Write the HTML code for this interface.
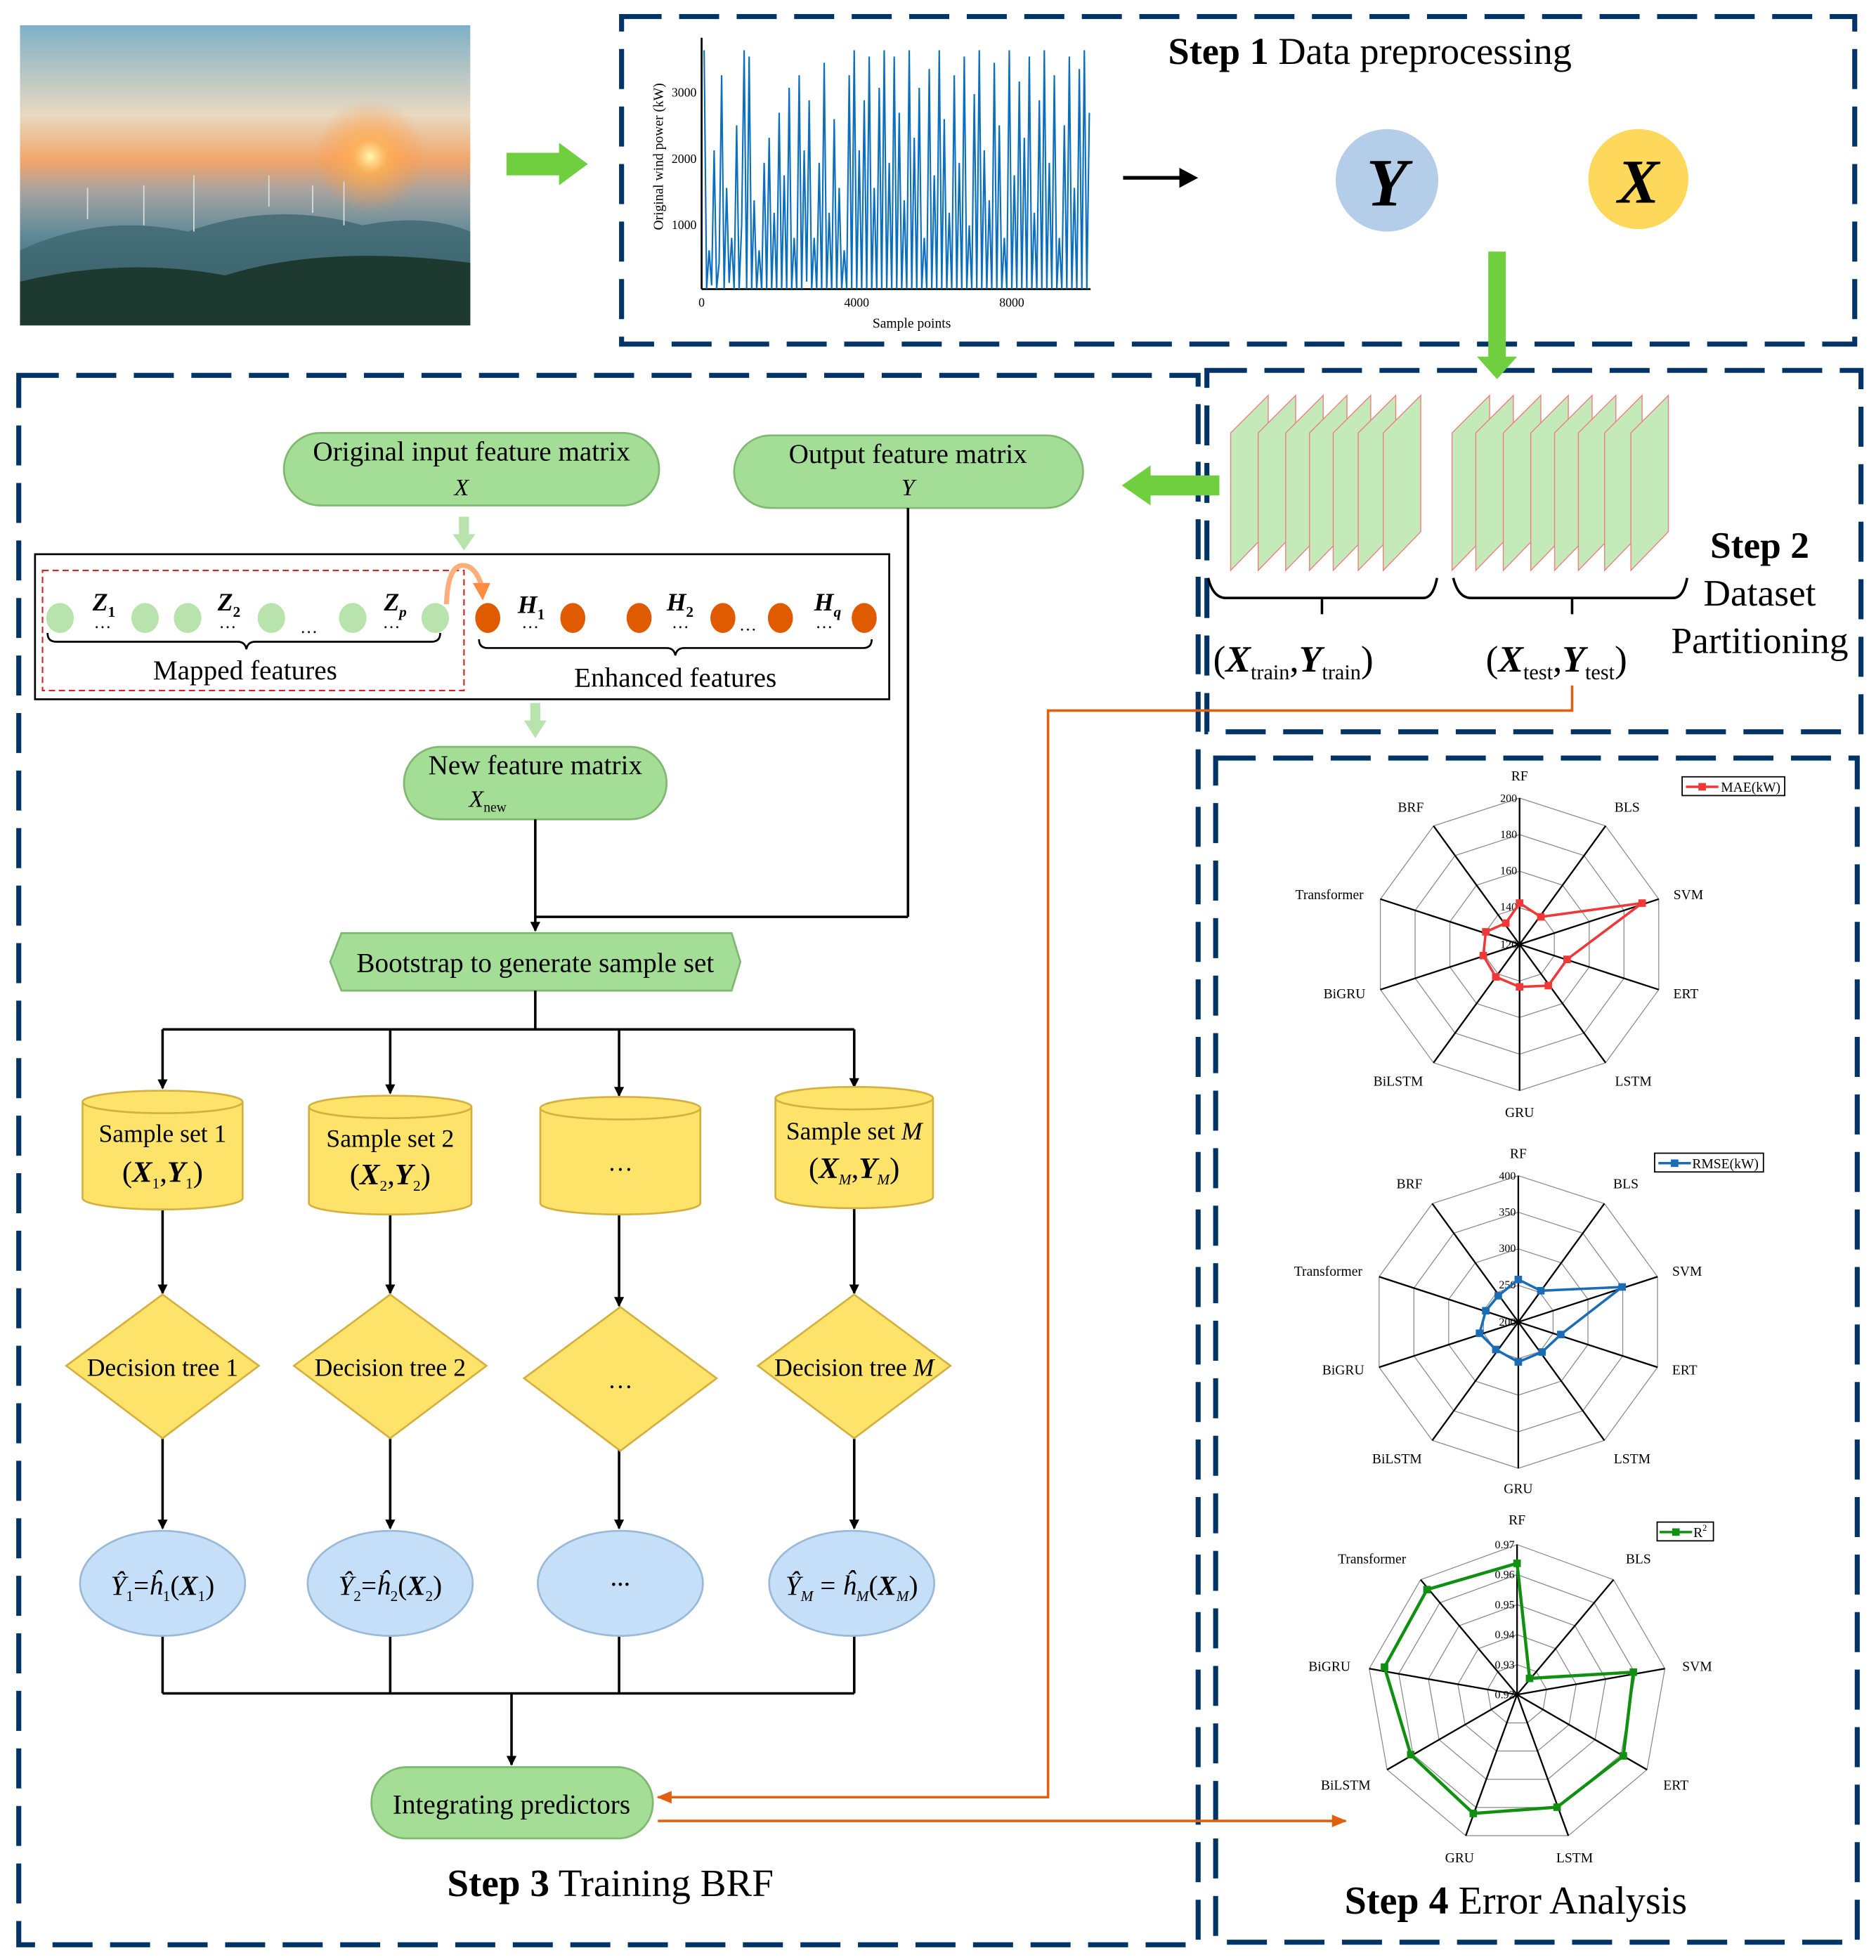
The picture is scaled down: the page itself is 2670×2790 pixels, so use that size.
<!DOCTYPE html>
<html><head><meta charset="utf-8"><style>
html,body{margin:0;padding:0;background:#fff;}
svg{display:block;}
text{font-family:"Liberation Serif",serif;}
</style></head><body>
<svg width="2670" height="2790" viewBox="0 0 1500 1567" xmlns="http://www.w3.org/2000/svg">
<defs>
<linearGradient id="sky" x1="0" y1="0" x2="0" y2="1">
<stop offset="0" stop-color="#7fb0c8"/><stop offset="0.3" stop-color="#e8d9c0"/><stop offset="0.45" stop-color="#f2a66a"/><stop offset="0.55" stop-color="#a8a4a0"/><stop offset="0.7" stop-color="#5f8a98"/><stop offset="1" stop-color="#1d3a36"/>
</linearGradient>
<radialGradient id="sun" cx="0.5" cy="0.5" r="0.5"><stop offset="0" stop-color="#fff6b0"/><stop offset="0.3" stop-color="#ffb050" stop-opacity="0.8"/><stop offset="1" stop-color="#ff9040" stop-opacity="0"/></radialGradient>
<marker id="ab" markerWidth="8" markerHeight="8" refX="7" refY="4" orient="auto" markerUnits="userSpaceOnUse"><path d="M0,0 L8,4 L0,8 z" fill="#000"/></marker>
<marker id="ao" markerWidth="12" markerHeight="10" refX="11" refY="5" orient="auto" markerUnits="userSpaceOnUse"><path d="M0,0 L12,5 L0,10 z" fill="#e06010"/></marker>
</defs>

<!-- photo -->
<rect x="16" y="20" width="360" height="240" fill="url(#sky)"/>
<circle cx="296" cy="125" r="45" fill="url(#sun)"/>
<path d="M16,200 Q80,170 150,185 Q220,160 290,180 Q340,170 376,185 L376,260 L16,260z" fill="#3e6670" opacity="0.8"/>
<path d="M16,225 Q100,205 180,220 Q260,195 376,210 L376,260 L16,260z" fill="#1e3a30"/>
<g stroke="#ddd" stroke-width="1"><line x1="70" y1="150" x2="70" y2="175"/><line x1="115" y1="148" x2="115" y2="180"/><line x1="155" y1="140" x2="155" y2="185"/><line x1="215" y1="140" x2="215" y2="165"/><line x1="250" y1="148" x2="250" y2="170"/><line x1="275" y1="145" x2="275" y2="180"/></g>

<path d="M405,122 L447,122 L447,114 L470,131 L447,148 L447,140 L405,140z" fill="#6fcf3f"/>

<g fill="none" stroke="#003366" stroke-width="4" stroke-dasharray="32,14">
<rect x="497" y="13" width="986" height="262"/>
<rect x="15" y="300" width="943" height="1255"/>
<rect x="965" y="296" width="523" height="289"/>
<rect x="972" y="606" width="513" height="947"/>
</g>

<line x1="561" y1="30" x2="561" y2="231" stroke="#000" stroke-width="1.5"/>
<line x1="561" y1="231" x2="872" y2="231" stroke="#000" stroke-width="1.5"/>
<polyline fill="none" stroke="#0b6fbd" stroke-width="1.2" points="563,40 565,231 567,200 569,228 571,120 573,231 575,210 577,60 579,231 581,150 583,226 585,190 587,231 589,100 591,231 593,180 595,40 597,231 599,45 601,231 603,160 605,231 607,200 609,231 611,130 613,231 615,110 617,231 619,170 621,231 623,90 625,231 627,140 629,231 631,70 633,231 635,190 637,231 639,60 641,231 643,120 645,225 647,80 649,231 651,190 653,231 655,130 657,231 659,50 661,231 663,170 665,231 667,95 669,231 671,150 673,231 675,200 677,231 679,60 681,231 683,40 685,231 687,120 689,231 691,80 693,231 695,45 697,231 699,150 701,231 703,70 705,231 707,40 709,231 711,130 713,231 715,45 717,231 719,90 721,231 723,160 725,231 727,40 729,231 731,110 733,231 735,70 737,231 739,190 741,231 743,55 745,231 747,140 749,231 751,40 753,231 755,95 757,231 759,170 761,231 763,60 765,231 767,130 769,231 771,45 773,231 775,180 777,231 779,75 781,231 783,40 785,231 787,120 789,231 791,160 793,231 795,50 797,231 799,100 801,231 803,190 805,231 807,40 809,231 811,140 813,231 815,65 817,231 819,110 821,231 823,45 825,231 827,170 829,231 831,80 833,231 835,40 837,231 839,130 841,231 843,60 845,231 847,190 849,231 851,100 853,231 855,45 857,231 859,150 861,231 863,55 865,231 867,40 869,231 871,90"/>
<g font-size="10" fill="#000">
<text x="557" y="77" text-anchor="end">3000</text>
<text x="557" y="130" text-anchor="end">2000</text>
<text x="557" y="183" text-anchor="end">1000</text>
<text x="561" y="245" text-anchor="middle">0</text>
<text x="685" y="245" text-anchor="middle">4000</text>
<text x="809" y="245" text-anchor="middle">8000</text>
<text x="729" y="262" text-anchor="middle" font-size="11">Sample points</text>
<text transform="translate(530,125) rotate(-90)" text-anchor="middle" font-size="11">Original wind power (kW)</text>
</g>
<text x="934" y="51" font-size="30.5"><tspan font-weight="bold">Step 1</tspan> Data preprocessing</text>
<line x1="898" y1="142" x2="945" y2="142" stroke="#000" stroke-width="3"/>
<path d="M943,134 L958,142 L943,150z" fill="#000"/>
<circle cx="1109" cy="144" r="41" fill="#b4cde8"/>
<circle cx="1310" cy="143" r="40" fill="#fdd85a"/>
<text x="1109" y="164" font-size="54" font-weight="bold" font-style="italic" text-anchor="middle">Y</text>
<text x="1310" y="162" font-size="50" font-weight="bold" font-style="italic" text-anchor="middle">X</text>
<rect x="1190" y="201" width="14" height="86" fill="#6fcf3f"/>
<path d="M1181,285 L1213,285 L1197,303z" fill="#6fcf3f"/>

<g fill="#c3eab8" stroke="#f08080" stroke-width="0.8">
<polygon points="984,346 1014,316 1014,425 984,456"/>
<polygon points="1006,346 1036,316 1036,425 1006,456"/>
<polygon points="1028,346 1058,316 1058,425 1028,456"/>
<polygon points="1047,346 1077,316 1077,425 1047,456"/>
<polygon points="1066,346 1096,316 1096,425 1066,456"/>
<polygon points="1086,346 1116,316 1116,425 1086,456"/>
<polygon points="1106,346 1136,316 1136,425 1106,456"/>
<polygon points="1161,346 1191,316 1191,425 1161,456"/>
<polygon points="1180,346 1210,316 1210,425 1180,456"/>
<polygon points="1202,346 1232,316 1232,425 1202,456"/>
<polygon points="1224,346 1254,316 1254,425 1224,456"/>
<polygon points="1243,346 1273,316 1273,425 1243,456"/>
<polygon points="1262,346 1292,316 1292,425 1262,456"/>
<polygon points="1283,346 1313,316 1313,425 1283,456"/>
<polygon points="1304,346 1334,316 1334,425 1304,456"/>
</g>
<g fill="none" stroke="#000" stroke-width="2">
<path d="M966,462 Q970,478 980,478 L1138,478 Q1146,478 1149,462"/>
<line x1="1057" y1="478" x2="1057" y2="491"/>
<path d="M1162,462 Q1166,478 1176,478 L1338,478 Q1346,478 1349,462"/>
<line x1="1257" y1="478" x2="1257" y2="491"/>
</g>
<text x="970" y="537" font-size="30">(<tspan font-style="italic" font-weight="bold">X</tspan><tspan font-size="17" dy="6">train</tspan><tspan dy="-6">,</tspan><tspan font-style="italic" font-weight="bold">Y</tspan><tspan font-size="17" dy="6">train</tspan><tspan dy="-6">)</tspan></text>
<text x="1188" y="537" font-size="30">(<tspan font-style="italic" font-weight="bold">X</tspan><tspan font-size="17" dy="6">test</tspan><tspan dy="-6">,</tspan><tspan font-style="italic" font-weight="bold">Y</tspan><tspan font-size="17" dy="6">test</tspan><tspan dy="-6">)</tspan></text>
<text x="1407" y="446" font-size="30" font-weight="bold" text-anchor="middle">Step 2</text>
<text x="1407" y="484" font-size="30" text-anchor="middle">Dataset</text>
<text x="1407" y="522" font-size="30" text-anchor="middle">Partitioning</text>
<path d="M975,380 L920,380 L920,372 L897,388 L920,404 L920,396 L975,396z" fill="#6fcf3f"/>

<g fill="#a3dd96" stroke="#7fb870" stroke-width="1.5">
<rect x="227" y="346" width="300" height="58" rx="29"/>
<rect x="587" y="348" width="279" height="58" rx="29"/>
<rect x="323" y="597" width="210" height="58" rx="29"/>
<polygon points="273,746 585,746 592,769 585,792 273,792 264,769"/>
<rect x="297" y="1413" width="225" height="57" rx="28"/>
</g>
<g font-size="22" text-anchor="middle">
<text x="377" y="368">Original input feature matrix</text>
<text x="369" y="396" font-style="italic" font-size="19">X</text>
<text x="726" y="370">Output feature matrix</text>
<text x="726" y="396" font-style="italic" font-size="19">Y</text>
<text x="428" y="619">New feature matrix</text>
<text x="390" y="645" font-style="italic" font-size="19">X<tspan font-size="11" dy="4" font-style="normal">new</tspan></text>
<text x="428" y="777">Bootstrap to generate sample set</text>
<text x="409" y="1450">Integrating predictors</text>
</g>
<rect x="367" y="413" width="8" height="15" fill="#b8e3ad"/><path d="M362,427 L380,427 L371,440z" fill="#b8e3ad"/>
<rect x="424" y="562" width="8" height="15" fill="#b8e3ad"/><path d="M419,576 L437,576 L428,590z" fill="#b8e3ad"/>

<rect x="28" y="443" width="683" height="116" fill="none" stroke="#000" stroke-width="1.5"/>
<rect x="34" y="456" width="337" height="96" fill="none" stroke="#e02020" stroke-width="1.2" stroke-dasharray="5,3"/>
<g fill="#b8e3ad"><ellipse cx="48" cy="494" rx="11" ry="12"/><ellipse cx="116" cy="494" rx="11" ry="12"/><ellipse cx="150" cy="494" rx="11" ry="12"/><ellipse cx="217" cy="494" rx="11" ry="12"/><ellipse cx="282" cy="494" rx="11" ry="12"/><ellipse cx="348" cy="494" rx="11" ry="12"/></g>
<g fill="#e05a00"><ellipse cx="390" cy="494" rx="10" ry="12"/><ellipse cx="458" cy="494" rx="10" ry="12"/><ellipse cx="511" cy="494" rx="10" ry="12"/><ellipse cx="578" cy="494" rx="10" ry="12"/><ellipse cx="624" cy="494" rx="10" ry="12"/><ellipse cx="691" cy="494" rx="10" ry="12"/></g>
<path d="M357,483 Q358,452 370,452 Q380,452 385,468" fill="none" stroke="#ffad7a" stroke-width="4"/>
<path d="M378,466 L392,466 L386,480z" fill="#ff8c40"/>
<g font-size="20" font-style="italic" font-weight="bold">
<text x="74" y="488">Z<tspan font-size="12" dy="5" font-style="normal">1</tspan></text>
<text x="174" y="488">Z<tspan font-size="12" dy="5" font-style="normal">2</tspan></text>
<text x="307" y="488">Z<tspan font-size="12" dy="5">p</tspan></text>
<text x="414" y="490">H<tspan font-size="12" dy="5" font-style="normal">1</tspan></text>
<text x="533" y="488">H<tspan font-size="12" dy="5" font-style="normal">2</tspan></text>
<text x="651" y="488">H<tspan font-size="12" dy="5">q</tspan></text>
</g>
<g font-size="14"><text x="75" y="502">…</text><text x="175" y="502">…</text><text x="240" y="506">…</text><text x="306" y="502">…</text><text x="417" y="502">…</text><text x="537" y="502">…</text><text x="591" y="504">…</text><text x="652" y="502">…</text></g>
<g fill="none" stroke="#000" stroke-width="1.5">
<path d="M38,506 Q38,513 45,513 L190,513 Q196,513 197,519 Q198,513 204,513 L345,513 Q352,513 352,506"/>
<path d="M383,511 Q383,518 390,518 L533,518 Q539,518 540,524 Q541,518 547,518 L690,518 Q697,518 697,511"/>
</g>
<text x="196" y="543" font-size="22" text-anchor="middle">Mapped features</text>
<text x="540" y="549" font-size="22" text-anchor="middle">Enhanced features</text>

<g stroke="#000" stroke-width="2" fill="none">
<line x1="726" y1="406" x2="726" y2="733"/>
<line x1="726" y1="733" x2="428" y2="733"/>
<line x1="428" y1="655" x2="428" y2="744" marker-end="url(#ab)"/>
<line x1="428" y1="792" x2="428" y2="823"/>
<line x1="130" y1="823" x2="683" y2="823"/>
<line x1="130" y1="823" x2="130" y2="870" marker-end="url(#ab)"/>
<line x1="312" y1="823" x2="312" y2="874" marker-end="url(#ab)"/>
<line x1="495" y1="823" x2="495" y2="876" marker-end="url(#ab)"/>
<line x1="683" y1="823" x2="683" y2="869" marker-end="url(#ab)"/>
<line x1="130" y1="965" x2="130" y2="1034" marker-end="url(#ab)"/>
<line x1="312" y1="970" x2="312" y2="1034" marker-end="url(#ab)"/>
<line x1="495" y1="968" x2="495" y2="1044" marker-end="url(#ab)"/>
<line x1="683" y1="965" x2="683" y2="1034" marker-end="url(#ab)"/>
<line x1="130" y1="1150" x2="130" y2="1222" marker-end="url(#ab)"/>
<line x1="312" y1="1150" x2="312" y2="1222" marker-end="url(#ab)"/>
<line x1="495" y1="1140" x2="495" y2="1222" marker-end="url(#ab)"/>
<line x1="683" y1="1150" x2="683" y2="1222" marker-end="url(#ab)"/>
<line x1="130" y1="1308" x2="130" y2="1354"/>
<line x1="312" y1="1308" x2="312" y2="1354"/>
<line x1="495" y1="1308" x2="495" y2="1354"/>
<line x1="683" y1="1308" x2="683" y2="1354"/>
<line x1="130" y1="1354" x2="683" y2="1354"/>
<line x1="409" y1="1354" x2="409" y2="1411" marker-end="url(#ab)"/>
</g>
<g stroke="#e06010" stroke-width="2" fill="none">
<polyline points="1257,548 1257,568 838,568 838,1437 526,1437" marker-end="url(#ao)"/>
<line x1="526" y1="1456" x2="1076" y2="1456" marker-end="url(#ao)"/>
</g>

<g fill="#fde36a" stroke="#d4b040" stroke-width="1.5">
<path d="M66,881 L66,958 A64,9 0 0 0 194,958 L194,881"/><ellipse cx="130" cy="881" rx="64" ry="9"/>
<path d="M247,885 L247,962 A65,9 0 0 0 377,962 L377,885"/><ellipse cx="312" cy="885" rx="65" ry="9"/>
<path d="M432,886 L432,962 A64,9 0 0 0 560,962 L560,886"/><ellipse cx="496" cy="886" rx="64" ry="9"/>
<path d="M620,878 L620,957 A63,9 0 0 0 746,957 L746,878"/><ellipse cx="683" cy="878" rx="63" ry="9"/>
</g>
<g font-size="20" text-anchor="middle">
<text x="130" y="913">Sample set 1</text>
<text x="130" y="945" font-size="24">(<tspan font-style="italic" font-weight="bold">X</tspan><tspan font-size="12" dy="5">1</tspan><tspan dy="-5">,</tspan><tspan font-style="italic" font-weight="bold">Y</tspan><tspan font-size="12" dy="5">1</tspan><tspan dy="-5">)</tspan></text>
<text x="312" y="917">Sample set 2</text>
<text x="312" y="947" font-size="24">(<tspan font-style="italic" font-weight="bold">X</tspan><tspan font-size="12" dy="5">2</tspan><tspan dy="-5">,</tspan><tspan font-style="italic" font-weight="bold">Y</tspan><tspan font-size="12" dy="5">2</tspan><tspan dy="-5">)</tspan></text>
<text x="496" y="936">…</text>
<text x="683" y="911">Sample set <tspan font-style="italic">M</tspan></text>
<text x="683" y="942" font-size="24">(<tspan font-style="italic" font-weight="bold">X</tspan><tspan font-size="12" dy="5" font-style="italic">M</tspan><tspan dy="-5">,</tspan><tspan font-style="italic" font-weight="bold">Y</tspan><tspan font-size="12" dy="5" font-style="italic">M</tspan><tspan dy="-5">)</tspan></text>
</g>

<g fill="#fde36a" stroke="#d4b040" stroke-width="1.5">
<polygon points="130,1035 207,1092 130,1150 53,1092"/>
<polygon points="312,1035 389,1092 312,1150 235,1092"/>
<polygon points="496,1045 573,1102 496,1160 419,1102"/>
<polygon points="683,1035 760,1092 683,1150 606,1092"/>
</g>
<g font-size="20" text-anchor="middle">
<text x="130" y="1100">Decision tree 1</text>
<text x="312" y="1100">Decision tree 2</text>
<text x="496" y="1110">…</text>
<text x="683" y="1100">Decision tree <tspan font-style="italic">M</tspan></text>
</g>

<g fill="#c4dff7" stroke="#9ab8d8" stroke-width="1.5">
<ellipse cx="130" cy="1266" rx="66" ry="42"/>
<ellipse cx="312" cy="1266" rx="66" ry="42"/>
<ellipse cx="496" cy="1266" rx="66" ry="42"/>
<ellipse cx="681" cy="1266" rx="66" ry="42"/>
</g>
<g font-size="22" text-anchor="middle" font-style="italic">
<text x="130" y="1275">Ŷ<tspan font-size="12" dy="5" font-style="normal">1</tspan><tspan dy="-5" font-style="normal">=</tspan>ĥ<tspan font-size="12" dy="5" font-style="normal">1</tspan><tspan dy="-5" font-style="normal">(</tspan><tspan font-weight="bold">X</tspan><tspan font-size="12" dy="5" font-style="normal">1</tspan><tspan dy="-5" font-style="normal">)</tspan></text>
<text x="312" y="1275">Ŷ<tspan font-size="12" dy="5" font-style="normal">2</tspan><tspan dy="-5" font-style="normal">=</tspan>ĥ<tspan font-size="12" dy="5" font-style="normal">2</tspan><tspan dy="-5" font-style="normal">(</tspan><tspan font-weight="bold">X</tspan><tspan font-size="12" dy="5" font-style="normal">2</tspan><tspan dy="-5" font-style="normal">)</tspan></text>
<text x="496" y="1272" font-style="normal" font-weight="bold" font-size="16">···</text>
<text x="681" y="1275">Ŷ<tspan font-size="12" dy="5">M</tspan><tspan dy="-5" font-style="normal"> = </tspan>ĥ<tspan font-size="12" dy="5">M</tspan><tspan dy="-5" font-style="normal">(</tspan><tspan font-weight="bold">X</tspan><tspan font-size="12" dy="5">M</tspan><tspan dy="-5" font-style="normal">)</tspan></text>
</g>
<text x="488" y="1516" font-size="31" text-anchor="middle"><tspan font-weight="bold">Step 3</tspan> Training BRF</text>

<g transform="translate(1215,755)">
<g fill="none" stroke="#888" stroke-width="0.7">
<polygon points="0,-117 68.8,-94.7 111.3,-36.2 111.3,36.2 68.8,94.7 0,117 -68.8,94.7 -111.3,36.2 -111.3,-36.2 -68.8,-94.7"/>
<polygon points="0,-87.8 51.6,-71 83.5,-27.1 83.5,27.1 51.6,71 0,87.8 -51.6,71 -83.5,27.1 -83.5,-27.1 -51.6,-71"/>
<polygon points="0,-58.5 34.4,-47.3 55.7,-18.1 55.7,18.1 34.4,47.3 0,58.5 -34.4,47.3 -55.7,18.1 -55.7,-18.1 -34.4,-47.3"/>
<polygon points="0,-29.3 17.2,-23.7 27.8,-9 27.8,9 17.2,23.7 0,29.3 -17.2,23.7 -27.8,9 -27.8,-9 -17.2,-23.7"/>
</g>
<g stroke="#000" stroke-width="1.3"><line x1="0" y1="-117" x2="0" y2="117"/><line x1="68.8" y1="-94.7" x2="-68.8" y2="94.7"/><line x1="111.3" y1="-36.2" x2="-111.3" y2="36.2"/><line x1="111.3" y1="36.2" x2="-111.3" y2="-36.2"/><line x1="68.8" y1="94.7" x2="-68.8" y2="-94.7"/></g>
<g font-size="9" text-anchor="end"><text x="-2" y="-114">200</text><text x="-2" y="-85">180</text><text x="-2" y="-56">160</text><text x="-2" y="-27">140</text><text x="-2" y="3">120</text></g>
</g>
<polygon points="1215,722 1232,733 1313,722 1253,767 1238,788 1215,789 1196,781 1186,764 1188,745 1204,738" fill="none" stroke="#f03838" stroke-width="2"/>
<g fill="#f03838"><rect x="1212" y="719" width="6" height="6"/><rect x="1229" y="730" width="6" height="6"/><rect x="1310" y="719" width="6" height="6"/><rect x="1250" y="764" width="6" height="6"/><rect x="1235" y="785" width="6" height="6"/><rect x="1212" y="786" width="6" height="6"/><rect x="1193" y="778" width="6" height="6"/><rect x="1183" y="761" width="6" height="6"/><rect x="1185" y="742" width="6" height="6"/><rect x="1201" y="735" width="6" height="6"/></g>
<g font-size="11" text-anchor="middle"><text x="1215" y="624">RF</text><text x="1301" y="649">BLS</text><text x="1350" y="719">SVM</text><text x="1348" y="798">ERT</text><text x="1306" y="868">LSTM</text><text x="1215" y="893">GRU</text><text x="1118" y="868">BiLSTM</text><text x="1075" y="798">BiGRU</text><text x="1063" y="719">Transformer</text><text x="1128" y="649">BRF</text></g>
<rect x="1345" y="621" width="82" height="15" fill="#fff" stroke="#000"/>
<line x1="1348" y1="629" x2="1374" y2="629" stroke="#f03838" stroke-width="2"/><rect x="1358" y="626" width="6" height="6" fill="#f03838"/>
<text x="1376" y="633" font-size="11">MAE(kW)</text>

<g transform="translate(1214,1057)">
<g fill="none" stroke="#888" stroke-width="0.7">
<polygon points="0,-117 68.8,-94.7 111.3,-36.2 111.3,36.2 68.8,94.7 0,117 -68.8,94.7 -111.3,36.2 -111.3,-36.2 -68.8,-94.7"/>
<polygon points="0,-87.8 51.6,-71 83.5,-27.1 83.5,27.1 51.6,71 0,87.8 -51.6,71 -83.5,27.1 -83.5,-27.1 -51.6,-71"/>
<polygon points="0,-58.5 34.4,-47.3 55.7,-18.1 55.7,18.1 34.4,47.3 0,58.5 -34.4,47.3 -55.7,18.1 -55.7,-18.1 -34.4,-47.3"/>
<polygon points="0,-29.3 17.2,-23.7 27.8,-9 27.8,9 17.2,23.7 0,29.3 -17.2,23.7 -27.8,9 -27.8,-9 -17.2,-23.7"/>
</g>
<g stroke="#000" stroke-width="1.3"><line x1="0" y1="-117" x2="0" y2="117"/><line x1="68.8" y1="-94.7" x2="-68.8" y2="94.7"/><line x1="111.3" y1="-36.2" x2="-111.3" y2="36.2"/><line x1="111.3" y1="36.2" x2="-111.3" y2="-36.2"/><line x1="68.8" y1="94.7" x2="-68.8" y2="-94.7"/></g>
<g font-size="9" text-anchor="end"><text x="-2" y="-114">400</text><text x="-2" y="-85">350</text><text x="-2" y="-56">300</text><text x="-2" y="-27">250</text><text x="-2" y="3">200</text></g>
</g>
<polygon points="1214,1023 1232,1032 1297,1029 1248,1067 1233,1081 1214,1089 1196,1079 1183,1066 1188,1048 1198,1036" fill="none" stroke="#1a6db5" stroke-width="2"/>
<g fill="#1a6db5"><rect x="1211" y="1020" width="6" height="6"/><rect x="1229" y="1029" width="6" height="6"/><rect x="1294" y="1026" width="6" height="6"/><rect x="1245" y="1064" width="6" height="6"/><rect x="1230" y="1078" width="6" height="6"/><rect x="1211" y="1086" width="6" height="6"/><rect x="1193" y="1076" width="6" height="6"/><rect x="1180" y="1063" width="6" height="6"/><rect x="1185" y="1045" width="6" height="6"/><rect x="1195" y="1033" width="6" height="6"/></g>
<g font-size="11" text-anchor="middle"><text x="1214" y="926">RF</text><text x="1300" y="950">BLS</text><text x="1349" y="1020">SVM</text><text x="1347" y="1099">ERT</text><text x="1305" y="1170">LSTM</text><text x="1214" y="1194">GRU</text><text x="1117" y="1170">BiLSTM</text><text x="1074" y="1099">BiGRU</text><text x="1062" y="1020">Transformer</text><text x="1127" y="950">BRF</text></g>
<rect x="1323" y="922" width="87" height="15" fill="#fff" stroke="#000"/>
<line x1="1326" y1="930" x2="1352" y2="930" stroke="#1a6db5" stroke-width="2"/><rect x="1336" y="927" width="6" height="6" fill="#1a6db5"/>
<text x="1353" y="934" font-size="11">RMSE(kW)</text>

<g transform="translate(1213,1355)">
<g fill="none" stroke="#888" stroke-width="0.7">
<polygon points="0,-120 77.1,-91.9 118.2,-20.8 103.9,60 41,112.8 -41,112.8 -103.9,60 -118.2,-20.8 -77.1,-91.9"/>
<polygon points="0,-96 61.7,-73.5 94.6,-16.7 83.1,48 32.8,90.2 -32.8,90.2 -83.1,48 -94.6,-16.7 -61.7,-73.5"/>
<polygon points="0,-72 46.3,-55.1 70.9,-12.5 62.4,36 24.6,67.7 -24.6,67.7 -62.4,36 -70.9,-12.5 -46.3,-55.1"/>
<polygon points="0,-48 30.9,-36.8 47.3,-8.3 41.6,24 16.4,45.1 -16.4,45.1 -41.6,24 -47.3,-8.3 -30.9,-36.8"/>
<polygon points="0,-24 15.4,-18.4 23.6,-4.2 20.8,12 8.2,22.6 -8.2,22.6 -20.8,12 -23.6,-4.2 -15.4,-18.4"/>
</g>
<g stroke="#000" stroke-width="1.3"><line x1="0" y1="0" x2="0" y2="-120"/><line x1="0" y1="0" x2="77.1" y2="-91.9"/><line x1="0" y1="0" x2="118.2" y2="-20.8"/><line x1="0" y1="0" x2="103.9" y2="60"/><line x1="0" y1="0" x2="41" y2="112.8"/><line x1="0" y1="0" x2="-41" y2="112.8"/><line x1="0" y1="0" x2="-103.9" y2="60"/><line x1="0" y1="0" x2="-118.2" y2="-20.8"/><line x1="0" y1="0" x2="-77.1" y2="-91.9"/></g>
<g font-size="9" text-anchor="end"><text x="-2" y="-117">0.97</text><text x="-2" y="-93">0.96</text><text x="-2" y="-69">0.95</text><text x="-2" y="-45">0.94</text><text x="-2" y="-21">0.93</text><text x="-2" y="3">0.92</text></g>
</g>
<polygon points="1213,1250 1223,1342 1306,1337 1298,1404 1245,1445 1178,1450 1128,1403 1107,1333 1141,1271" fill="none" stroke="#109010" stroke-width="2.5"/>
<g fill="#109010"><rect x="1210" y="1247" width="6" height="6"/><rect x="1220" y="1339" width="6" height="6"/><rect x="1303" y="1334" width="6" height="6"/><rect x="1295" y="1401" width="6" height="6"/><rect x="1242" y="1442" width="6" height="6"/><rect x="1175" y="1447" width="6" height="6"/><rect x="1125" y="1400" width="6" height="6"/><rect x="1104" y="1330" width="6" height="6"/><rect x="1138" y="1268" width="6" height="6"/></g>
<g font-size="11" text-anchor="middle"><text x="1213" y="1219">RF</text><text x="1310" y="1250">BLS</text><text x="1357" y="1336">SVM</text><text x="1340" y="1431">ERT</text><text x="1259" y="1489">LSTM</text><text x="1167" y="1489">GRU</text><text x="1076" y="1431">BiLSTM</text><text x="1063" y="1336">BiGRU</text><text x="1097" y="1250">Transformer</text></g>
<rect x="1325" y="1217" width="45" height="15" fill="#fff" stroke="#000"/>
<line x1="1327" y1="1225" x2="1353" y2="1225" stroke="#109010" stroke-width="2"/><rect x="1337" y="1222" width="6" height="6" fill="#109010"/>
<text x="1354" y="1229" font-size="11">R<tspan font-size="7" dy="-5">2</tspan></text>
<text x="1212" y="1530" font-size="31.5" text-anchor="middle"><tspan font-weight="bold">Step 4</tspan> Error Analysis</text>
</svg>
</body></html>
